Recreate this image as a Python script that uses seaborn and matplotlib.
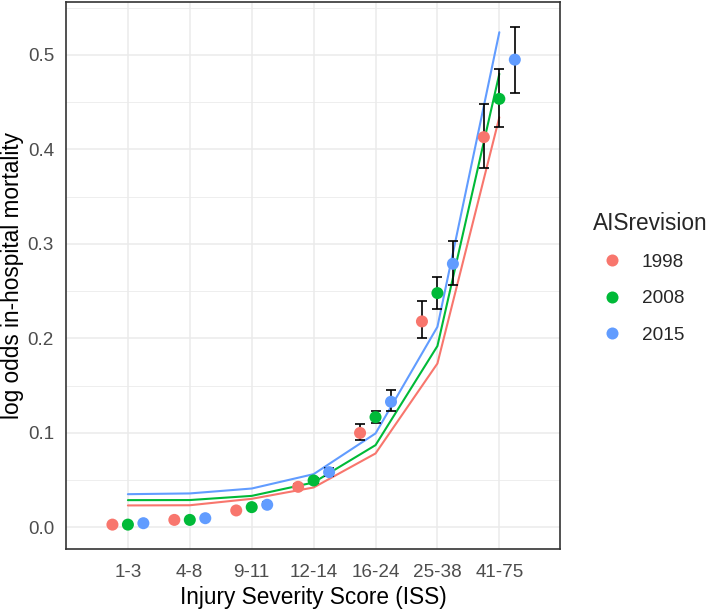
import numpy as np
import pandas as pd
import matplotlib
matplotlib.use("Agg")
import matplotlib.pyplot as plt
import seaborn as sns

categories = ["1-3", "4-8", "9-11", "12-14", "16-24", "25-38", "41-75"]
revisions = ["1998", "2008", "2015"]
colors = ["#F8766D", "#00BA38", "#619CFF"]

# observed log odds (points)
obs_1998 = [0.003, 0.008, 0.018, 0.043, 0.100, 0.218, 0.413]
obs_2008 = [0.003, 0.008, 0.0215, 0.0497, 0.1167, 0.248, 0.4535]
obs_2015 = [0.0045, 0.0098, 0.024, 0.0585, 0.133, 0.279, 0.495]
# error bar lower / upper
lo_1998 = [0.0022, 0.0068, 0.0165, 0.0405, 0.0925, 0.200, 0.380]
hi_1998 = [0.0038, 0.0092, 0.0195, 0.0455, 0.1097, 0.240, 0.448]
lo_2008 = [0.0022, 0.0068, 0.0195, 0.0470, 0.110, 0.231, 0.4236]
hi_2008 = [0.0038, 0.0092, 0.0235, 0.0525, 0.1228, 0.265, 0.4847]
lo_2015 = [0.0035, 0.0085, 0.0215, 0.0545, 0.1228, 0.257, 0.460]
hi_2015 = [0.0055, 0.0111, 0.0265, 0.0625, 0.145, 0.303, 0.530]
# model-predicted lines
fit_1998 = [0.0233, 0.0235, 0.0303, 0.0423, 0.0783, 0.1735, 0.434]
fit_2008 = [0.0289, 0.0290, 0.0334, 0.0476, 0.0871, 0.192, 0.480]
fit_2015 = [0.0352, 0.0360, 0.0412, 0.0564, 0.0995, 0.2123, 0.524]

obs = [obs_1998, obs_2008, obs_2015]
los = [lo_1998, lo_2008, lo_2015]
his = [hi_1998, hi_2008, hi_2015]
fits = [fit_1998, fit_2008, fit_2015]
dodge = [-0.25, 0.0, 0.25]

rows = []
for r, o, lo, hi, f, d in zip(revisions, obs, los, his, fits, dodge):
    for i, c in enumerate(categories):
        rows.append(dict(AISrevision=r, cat=c, pos=i + 1, xd=i + 1 + d,
                         obs=o[i], lo=lo[i], hi=hi[i], fit=f[i]))
df = pd.DataFrame(rows)

sns.set_theme(style="whitegrid")
plt.rcParams['font.family'] = ['Liberation Sans', 'DejaVu Sans']

fig = plt.figure(figsize=(7.09, 6.10), dpi=100)
ax = fig.add_axes([66/709, 1 - 549/610, (560-66)/709, (549-2)/610])
ax.set_facecolor("white")

palette = dict(zip(revisions, colors))
sns.lineplot(data=df, x="pos", y="fit", hue="AISrevision", palette=palette,
             linewidth=1.5, ax=ax, legend=False, zorder=2)
ax.errorbar(df["xd"], df["obs"], yerr=[df["obs"] - df["lo"], df["hi"] - df["obs"]],
            fmt="none", ecolor="black", elinewidth=1.2, capsize=3.8, capthick=1.2, zorder=3)
sns.scatterplot(data=df, x="xd", y="obs", hue="AISrevision", palette=palette,
                s=75, edgecolor="none", ax=ax, zorder=4)

ax.set_xlim(0.0, 7.98)
ax.set_ylim(-0.0228, 0.556)
ax.set_xticks(range(1, 8))
ax.set_xticklabels(categories)
ax.set_yticks([0.0, 0.1, 0.2, 0.3, 0.4, 0.5])
ax.set_yticklabels(["0.0", "0.1", "0.2", "0.3", "0.4", "0.5"])
ax.set_yticks([0.05, 0.15, 0.25, 0.35, 0.45, 0.55], minor=True)
ax.grid(True, which="major", color="#EBEBEB", linewidth=1.1)
ax.grid(True, which="minor", axis="y", color="#EBEBEB", linewidth=0.6)
ax.set_axisbelow(True)
for s in ax.spines.values():
    s.set_color("#333333")
    s.set_linewidth(1.2)
ax.tick_params(axis="both", which="major", length=3.6, width=1.0, color="#333333",
               labelsize=13.6, labelcolor="#4D4D4D")
ax.tick_params(axis="x", which="major", pad=7)
ax.tick_params(axis="y", which="major", pad=5)
ax.tick_params(axis="both", which="minor", length=0)
ax.set_xlabel("Injury Severity Score (ISS)", fontsize=16.3, color="black", labelpad=3.5)
ax.set_ylabel("log odds in-hospital mortality", fontsize=16.3, color="black", labelpad=2.5)

handles, labels = ax.get_legend_handles_labels()
leg = ax.legend(handles, labels, title="AISrevision", loc="upper left",
                bbox_to_anchor=(587/709, 1 - 206/610), bbox_transform=fig.transFigure,
                frameon=False, fontsize=13.7,
                title_fontsize=16.3, labelspacing=1.0, handletextpad=0.58,
                markerscale=1.0, borderaxespad=0, borderpad=0.3)
leg._legend_box.align = "left"

fig.savefig("out.png", dpi=100)
